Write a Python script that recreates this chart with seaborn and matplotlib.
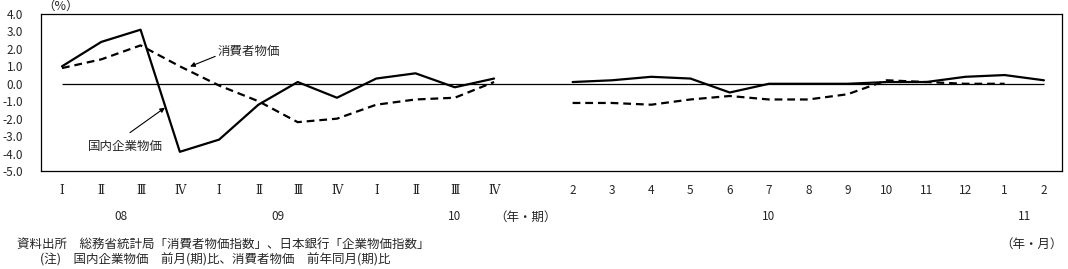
import numpy as np
import pandas as pd
import matplotlib
matplotlib.use("Agg")
import matplotlib.pyplot as plt
import seaborn as sns

# ---- data ----
quarter_labels = ["Ⅰ", "Ⅱ", "Ⅲ", "Ⅳ", "Ⅰ", "Ⅱ", "Ⅲ", "Ⅳ", "Ⅰ", "Ⅱ", "Ⅲ", "Ⅳ"]
quarter_years = ["08", "09", "10"]
month_labels = ["2", "3", "4", "5", "6", "7", "8", "9", "10", "11", "12", "1", "2"]
month_years = ["10", "11"]

cgpi_quarterly = [1.0, 2.4, 3.1, -3.9, -3.2, -1.2, 0.1, -0.8, 0.3, 0.6, -0.2, 0.3]
cpi_quarterly = [0.9, 1.4, 2.2, 1.0, -0.1, -1.0, -2.2, -2.0, -1.2, -0.9, -0.8, 0.1]
cgpi_monthly = [0.1, 0.2, 0.4, 0.3, -0.5, 0.0, 0.0, 0.0, 0.1, 0.1, 0.4, 0.5, 0.2]
cpi_monthly = [-1.1, -1.1, -1.2, -0.9, -0.7, -0.9, -0.9, -0.6, 0.2, 0.1, 0.0, 0.0, np.nan]

y_ticks = [4.0, 3.0, 2.0, 1.0, 0.0, -1.0, -2.0, -3.0, -4.0, -5.0]

# ---- positions (category index; one empty slot between blocks) ----
xq = np.arange(len(quarter_labels))
xm = np.arange(len(month_labels)) + len(quarter_labels) + 1

sns.set_style("white")
JP = ["Noto Sans CJK JP", "DejaVu Sans"]
plt.rcParams["font.family"] = JP
plt.rcParams["axes.unicode_minus"] = False

W, H = 1068, 269
fig = plt.figure(figsize=(W / 100, H / 100), dpi=100)
ax = fig.add_axes([41 / W, 1 - 171 / H, (1062 - 41) / W, (171 - 14) / H])

dash = (0, (3.5, 2.2))
segments = [
    (xq, cgpi_quarterly, "-"),
    (xq, cpi_quarterly, dash),
    (xm, cgpi_monthly, "-"),
    (xm, cpi_monthly, dash),
]
for xs, ys, ls in segments:
    d = pd.DataFrame({"x": xs, "y": ys}).dropna()
    sns.lineplot(data=d, x="x", y="y", ax=ax, color="black", linewidth=1.6,
                 linestyle=ls, legend=False, estimator=None, sort=False)

ax.hlines(0, xq[0], xm[-1], color="black", linewidth=0.9, zorder=1)

ax.set_xlim(-0.535, xm[-1] + 0.46)
ax.set_ylim(-5, 4)
ax.set_xlabel("")
ax.set_ylabel("")

ax.set_yticks(y_ticks)
ax.set_yticklabels([f"{v:.1f}" for v in y_ticks], fontsize=8.5)
ax.set_xticks(list(xq) + list(xm))
ax.set_xticklabels(quarter_labels + month_labels, fontsize=8.5)
for lbl in ax.get_xticklabels()[:len(quarter_labels)]:
    lbl.set_family(["DejaVu Serif", "Noto Sans CJK JP"])
ax.tick_params(axis="both", length=0)
ax.tick_params(axis="y", pad=13)
ax.tick_params(axis="x", pad=9)

for s in ax.spines.values():
    s.set_visible(True)
    s.set_color("black")
    s.set_linewidth(0.9)

trans = matplotlib.transforms.blended_transform_factory(ax.transData, fig.transFigure)
ypos = 1 - 217 / H
for lab, xpos in zip(quarter_years, [xq[1] + 0.5, xq[5] + 0.5, xq[10]]):
    ax.text(xpos, ypos, lab, transform=trans, ha="center", va="center", fontsize=8.5)
for lab, xpos in zip(month_years, [xm[5], xm[11] + 0.5]):
    ax.text(xpos, ypos, lab, transform=trans, ha="center", va="center", fontsize=8.5)

fig.text(525 / W, ypos, "（年・期）", ha="center", va="center", fontsize=9)
fig.text(1063 / W, 1 - 244 / H, "（年・月）", ha="right", va="center", fontsize=9)
fig.text(61 / W, 1 - 6 / H, "（%）", ha="center", va="center", fontsize=9)

fig.text(17 / W, 1 - 244 / H,
         "資料出所　総務省統計局「消費者物価指数」、日本銀行「企業物価指数」",
         ha="left", va="center", fontsize=9)
fig.text(40 / W, 1 - 260 / H,
         "(注)　国内企業物価　前月(期)比、消費者物価　前年同月(期)比",
         ha="left", va="center", fontsize=9)

# annotations
ax.text(3.97, 1.86, "消費者物価", ha="left", va="center", fontsize=9)
ax.annotate("", xy=(3.26, 0.99), xytext=(3.9, 1.57),
            arrowprops=dict(arrowstyle="-|>", color="black", lw=0.8,
                            mutation_scale=7, shrinkA=0, shrinkB=0))
ax.text(0.66, -3.6, "国内企業物価", ha="left", va="center", fontsize=9)
ax.annotate("", xy=(2.62, -1.37), xytext=(1.73, -2.8),
            arrowprops=dict(arrowstyle="-|>", color="black", lw=0.8,
                            mutation_scale=7, shrinkA=0, shrinkB=0))

fig.savefig("out.png", dpi=100)
